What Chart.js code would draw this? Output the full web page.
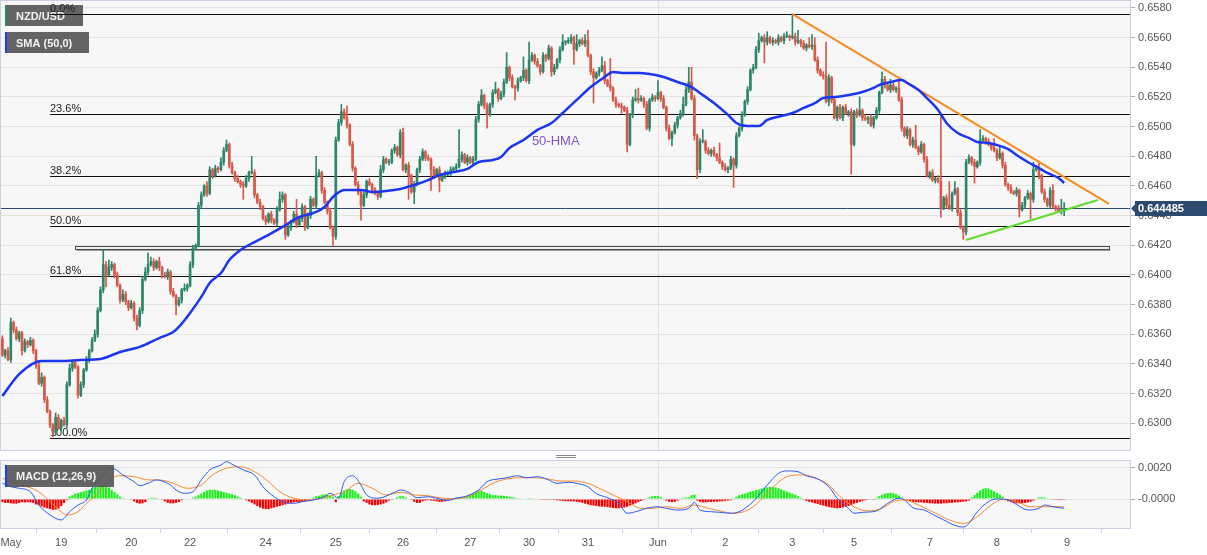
<!DOCTYPE html>
<html>
<head>
<meta charset="utf-8">
<title>NZD/USD 1H</title>
<script src="https://cdn.jsdelivr.net/npm/chart.js@4.4.1/dist/chart.umd.min.js"></script>
<style>
  html, body { margin: 0; padding: 0; background: #fff; }
  #wrap { position: relative; width: 1207px; height: 555px; overflow: hidden; }
  #main { position: absolute; left: 0; top: 0; }
  #macd { position: absolute; left: 0; top: 452px; }
</style>
</head>
<body>
<div id="wrap">
  <canvas id="main" width="1207" height="452"></canvas>
  <canvas id="macd" width="1207" height="103"></canvas>
</div>
<script>
// NZD/USD hourly candles, SMA(50) and MACD(12,26,9)
// prices in pips (x 1e-4)

const nSlots = 403; // 380 candles + empty room on the right
const firstOpen = 6357;

const closes = [
  6346, 6349, 6343, 6368, 6363, 6357, 6361, 6349, 6355, 6353,
  6356, 6349, 6339, 6327, 6331, 6316, 6308, 6299, 6294, 6304,
  6297, 6302, 6299, 6326, 6337, 6341, 6338, 6319, 6326, 6336,
  6343, 6349, 6356, 6360, 6376, 6390, 6407, 6400, 6405, 6407,
  6400, 6393, 6383, 6387, 6382, 6378, 6381, 6371, 6366, 6376,
  6397, 6402, 6407, 6409, 6405, 6409, 6405, 6400, 6399, 6402,
  6389, 6386, 6380, 6383, 6390, 6391, 6393, 6407, 6418, 6420,
  6447, 6454, 6460, 6455, 6471, 6467, 6472, 6471, 6476, 6484,
  6488, 6474, 6469, 6465, 6463, 6461, 6460, 6465, 6469, 6469,
  6454, 6449, 6446, 6438, 6436, 6441, 6437, 6435, 6444, 6451,
  6454, 6427, 6432, 6436, 6441, 6434, 6438, 6446, 6432, 6440,
  6451, 6447, 6467, 6469, 6457, 6449, 6443, 6432, 6426, 6491,
  6503, 6510, 6506, 6501, 6488, 6472, 6461, 6456, 6447, 6454,
  6463, 6461, 6457, 6455, 6453, 6471, 6478, 6476, 6476, 6484,
  6486, 6481, 6496, 6471, 6474, 6467, 6456, 6461, 6471, 6478,
  6483, 6479, 6478, 6471, 6467, 6471, 6464, 6467, 6468, 6469,
  6471, 6472, 6473, 6478, 6481, 6476, 6479, 6476, 6478, 6505,
  6515, 6521, 6514, 6508, 6515, 6523, 6525, 6519, 6522, 6530,
  6540, 6533, 6527, 6526, 6531, 6533, 6538, 6531, 6545, 6548,
  6544, 6541, 6537, 6548, 6546, 6553, 6537, 6540, 6545, 6552,
  6557, 6557, 6558, 6560, 6552, 6556, 6558, 6556, 6558, 6548,
  6537, 6533, 6536, 6538, 6541, 6531, 6528, 6526, 6518, 6515,
  6514, 6513, 6511, 6488, 6508, 6518, 6519, 6518, 6519, 6515,
  6499, 6518, 6520, 6519, 6523, 6519, 6513, 6499, 6492, 6496,
  6501, 6506, 6509, 6515, 6525, 6530, 6519, 6494, 6471, 6490,
  6490, 6484, 6482, 6484, 6481, 6479, 6476, 6473, 6471, 6472,
  6478, 6474, 6494, 6499, 6508, 6517, 6525, 6538, 6540, 6552,
  6558, 6560, 6557, 6560, 6557, 6558, 6557, 6560, 6558, 6561,
  6561, 6560, 6561, 6557, 6558, 6556, 6553, 6555, 6554, 6555,
  6545, 6538, 6535, 6534, 6517, 6533, 6518, 6506, 6513, 6506,
  6513, 6509, 6510, 6488, 6510, 6508, 6511, 6506, 6505, 6506,
  6501, 6506, 6511, 6523, 6532, 6528, 6525, 6528, 6525, 6526,
  6518, 6499, 6494, 6498, 6488, 6491, 6486, 6483, 6488, 6478,
  6467, 6469, 6464, 6465, 6463, 6445, 6452, 6447, 6445, 6455,
  6458, 6442, 6432, 6429, 6476, 6479, 6476, 6473, 6476, 6491,
  6492, 6490, 6488, 6486, 6484, 6479, 6482, 6474, 6461, 6459,
  6456, 6455, 6457, 6444, 6447, 6452, 6455, 6451, 6471, 6472,
  6467, 6456, 6451, 6447, 6457, 6446, 6445, 6443, 6443, 6444.85
];

// wick length above / below the body, pips
const upWick = [
  2, 1, 2, 3, 1, 2, 1, 1, 2, 1,
  2, 1, 1, 2, 3, 1, 2, 1, 1, 3,
  2, 1, 2, 2, 3, 1, 2, 1, 2, 1,
  2, 1, 2, 3, 2, 2, 10, 2, 5, 2,
  1, 2, 1, 3, 2, 1, 2, 1, 2, 2,
  2, 3, 8, 3, 2, 1, 3, 1, 2, 2,
  1, 2, 1, 2, 1, 3, 1, 2, 2, 1,
  2, 2, 1, 3, 2, 1, 2, 1, 3, 2,
  3, 1, 2, 1, 2, 1, 2, 2, 1, 11,
  2, 1, 2, 1, 2, 1, 2, 1, 2, 5,
  2, 1, 2, 1, 2, 10, 1, 2, 1, 2,
  2, 1, 13, 2, 1, 2, 1, 2, 1, 2,
  2, 5, 2, 8, 1, 2, 1, 2, 1, 2,
  1, 2, 1, 2, 1, 3, 2, 1, 2, 1,
  2, 1, 2, 3, 1, 2, 1, 2, 1, 2,
  2, 1, 2, 1, 2, 1, 2, 1, 2, 1,
  2, 1, 2, 20, 2, 1, 2, 1, 2, 2,
  2, 4, 1, 2, 1, 2, 5, 1, 2, 2,
  10, 1, 2, 1, 2, 1, 9, 1, 12, 2,
  1, 2, 1, 2, 1, 2, 1, 2, 1, 2,
  5, 1, 2, 2, 1, 6, 1, 2, 4, 7,
  1, 2, 1, 2, 6, 3, 1, 18, 1, 2,
  1, 2, 1, 2, 1, 2, 6, 7, 2, 1,
  2, 1, 2, 1, 8, 1, 2, 1, 2, 1,
  2, 1, 2, 5, 2, 10, 10, 2, 1, 2,
  8, 1, 2, 1, 2, 1, 10, 1, 2, 1,
  2, 1, 2, 1, 2, 1, 2, 1, 2, 2,
  5, 1, 2, 4, 1, 2, 1, 2, 1, 2,
  3, 1, 15, 2, 7, 1, 2, 1, 5, 7,
  5, 2, 1, 2, 23, 2, 1, 2, 1, 2,
  1, 2, 1, 2, 1, 2, 9, 1, 2, 1,
  2, 1, 2, 1, 5, 2, 1, 4, 2, 1,
  6, 2, 1, 2, 1, 2, 10, 1, 2, 1,
  2, 1, 2, 1, 2, 45, 1, 2, 16, 1,
  5, 1, 2, 1, 2, 2, 1, 2, 1, 7,
  2, 1, 2, 1, 6, 1, 5, 1, 2, 1,
  2, 1, 2, 1, 2, 1, 2, 1, 5, 2,
  4, 1, 2, 1, 2, 4, 1, 2, 8, 4
];
const downWick = [
  1, 2, 1, 2, 2, 1, 2, 3, 1, 2,
  1, 2, 2, 1, 2, 2, 1, 2, 3, 2,
  1, 2, 1, 2, 1, 2, 1, 2, 1, 2,
  1, 2, 1, 1, 2, 1, 2, 8, 1, 2,
  2, 1, 2, 1, 2, 2, 1, 2, 3, 1,
  2, 1, 2, 1, 2, 1, 2, 2, 1, 2,
  2, 1, 7, 1, 2, 1, 2, 1, 2, 1,
  1, 2, 1, 2, 1, 2, 1, 2, 1, 2,
  1, 2, 1, 2, 1, 2, 9, 1, 2, 1,
  2, 1, 2, 1, 2, 1, 2, 1, 2, 1,
  2, 3, 1, 2, 1, 2, 1, 2, 2, 1,
  2, 1, 2, 1, 2, 1, 2, 1, 6, 2,
  1, 2, 1, 2, 1, 2, 1, 2, 10, 1,
  2, 1, 2, 1, 2, 1, 2, 1, 2, 1,
  2, 1, 2, 1, 2, 16, 1, 8, 1, 2,
  1, 2, 1, 14, 2, 1, 8, 1, 2, 1,
  2, 1, 2, 1, 2, 1, 2, 1, 2, 1,
  2, 1, 2, 9, 1, 2, 1, 2, 1, 2,
  1, 2, 1, 8, 2, 1, 2, 1, 2, 1,
  2, 1, 2, 1, 2, 1, 3, 2, 1, 2,
  1, 2, 1, 2, 10, 1, 2, 1, 2, 1,
  2, 17, 1, 2, 1, 2, 1, 2, 1, 2,
  1, 4, 1, 5, 1, 2, 1, 2, 1, 2,
  1, 2, 1, 2, 1, 2, 1, 2, 1, 5,
  1, 2, 1, 2, 1, 2, 1, 3, 6, 2,
  1, 2, 1, 2, 1, 2, 1, 2, 1, 2,
  1, 15, 2, 1, 2, 1, 2, 1, 2, 1,
  2, 1, 14, 2, 1, 2, 1, 2, 1, 2,
  1, 2, 1, 2, 1, 2, 1, 2, 1, 2,
  1, 2, 1, 2, 1, 3, 2, 1, 2, 1,
  2, 1, 2, 20, 1, 2, 1, 2, 1, 3,
  1, 2, 1, 2, 1, 2, 1, 2, 1, 2,
  1, 2, 1, 2, 1, 2, 1, 2, 1, 2,
  1, 2, 1, 2, 1, 6, 1, 2, 1, 2,
  1, 2, 1, 5, 2, 1, 2, 11, 1, 2,
  1, 2, 1, 2, 1, 2, 1, 2, 1, 2,
  1, 1, 2, 5, 1, 2, 1, 13, 2, 1,
  2, 1, 2, 1, 2, 1, 2, 1, 2, 3
];

// 50-hour SMA, read at these candle positions (pips)
const smaIdx = [0, 6, 14, 21, 28, 35, 42, 49, 56, 61, 63, 67, 71, 74, 78, 81, 85, 90, 95, 100,
  106, 111, 115, 118, 122, 128, 132, 137, 142, 147, 152, 156, 161, 166, 170, 175, 178, 181, 186, 191,
  196, 200, 205, 210, 215, 218, 222, 227, 231, 236, 241, 246, 249, 254, 259, 262, 266, 270, 273, 278,
  282, 286, 290, 293, 297, 300, 304, 307, 311, 313, 317, 321, 323, 327, 330, 334, 337, 341, 345, 348,
  352, 355, 359, 362, 366, 370, 373, 377, 379];
const smaVal = [6318.4, 6333.2, 6342.0, 6342.0, 6342.7, 6343.4, 6348.1, 6351.5, 6357.5, 6361.6,
  6365.0, 6374.4, 6385.2, 6394.6, 6401.3, 6410.1, 6416.9, 6422.2, 6427.0, 6432.4,
  6439.1, 6441.8, 6445.8, 6452.6, 6457.3, 6457.3, 6456.0, 6456.6, 6458.0, 6460.7,
  6464.0, 6467.4, 6469.4, 6471.5, 6476.2, 6477.5, 6479.6, 6485.6, 6491.0, 6497.8,
  6502.5, 6509.2, 6518.0, 6526.7, 6533.5, 6536.9, 6536.2, 6536.2, 6535.5, 6533.5,
  6530.1, 6526.7, 6522.7, 6515.9, 6507.9, 6502.5, 6500.4, 6500.4, 6504.5, 6507.2,
  6509.2, 6512.6, 6515.9, 6519.3, 6520.0, 6520.7, 6522.0, 6523.4, 6526.1, 6528.1,
  6530.1, 6531.5, 6529.4, 6524.7, 6519.3, 6511.2, 6502.5, 6495.7, 6492.4, 6489.7,
  6489.0, 6487.6, 6484.9, 6480.9, 6476.2, 6472.1, 6468.8, 6465.4, 6462.0];

// MACD line and signal (x 1e-4), histogram (x 1e-5)
const macdIdx = [0, 3, 6, 10, 13, 17, 21, 22, 24, 27, 30, 32, 36, 38, 40, 43, 47, 49, 52, 55,
  57, 60, 62, 65, 68, 71, 74, 78, 80, 82, 86, 90, 93, 97, 100, 104, 107, 111, 115, 117,
  120, 122, 125, 128, 130, 134, 140, 142, 145, 148, 152, 155, 159, 162, 166, 170, 173, 177, 180, 184,
  187, 191, 195, 198, 202, 205, 209, 212, 216, 220, 223, 227, 230, 234, 237, 241, 245, 247, 249, 253,
  256, 260, 263, 268, 273, 277, 280, 284, 287, 291, 295, 298, 302, 304, 307, 312, 316, 320, 322, 325,
  329, 332, 336, 340, 343, 345, 348, 352, 355, 359, 362, 366, 370, 372, 375, 379];
const macdVal = [10.1, 7.9, 6.9, 4.7, -3.9, -10.3, -13.5, -12.5, -8.2, -3.9,
  -0.6, 6.9, 15.5, 19.8, 19.4, 15.5, 11.2, 8.6, 10.1, 12.3,
  11.6, 9.0, 5.8, 3.7, 4.7, 12.3, 18.7, 21.9, 24.1, 22.4,
  18.7, 15.5, 7.9, 1.5, -1.7, -2.8, -1.7, -0.6, 1.5, 3.7,
  0.5, 11.2, 15.0, 9.0, 2.6, 0.5, 4.3, 5.8, 4.3, 0.8,
  1.5, 0.5, -0.9, 0.5, 2.1, 5.8, 11.2, 12.9, 13.7, 15.0,
  13.7, 14.4, 12.3, 10.1, 10.8, 10.1, 7.9, 3.5, 0.8, -2.8,
  -9.2, -7.7, -6.0, -5.0, -6.0, -7.1, -6.0, -2.2, -7.1, -8.2,
  -8.6, -9.2, -8.2, -1.7, 9.0, 16.5, 18.1, 17.6, 15.0, 12.9,
  7.9, 0.5, -6.0, -9.2, -8.6, -7.7, -2.8, 0.5, -0.6, -5.6,
  -7.1, -9.9, -13.5, -17.0, -18.1, -15.8, -8.2, -1.7, 0.0, -0.6,
  -3.5, -7.1, -6.0, -3.9, -5.0, -6.0];
const signalIdx = [0, 6, 13, 17, 21, 23, 27, 30, 34, 37, 42, 47, 52, 56, 61, 66, 71, 75, 80, 85,
  90, 95, 99, 104, 109, 114, 118, 122, 127, 132, 137, 142, 147, 152, 156, 161, 166, 171, 175, 180,
  185, 190, 195, 199, 204, 209, 213, 218, 223, 228, 232, 237, 242, 247, 252, 256, 261, 264, 268, 273,
  278, 281, 286, 290, 295, 299, 304, 309, 314, 318, 322, 327, 332, 338, 343, 348, 353, 357, 362, 367,
  373, 379];
const signalVal = [13.3, 9.5, 4.7, -1.7, -8.2, -10.3, -8.2, -2.8, 3.7, 11.2,
  15.0, 14.4, 12.3, 12.3, 10.1, 6.9, 9.0, 15.5, 19.8, 20.8,
  17.6, 11.2, 4.7, 0.5, -0.6, 0.5, 2.6, 4.7, 10.1, 6.9,
  2.6, 4.3, 2.6, 2.1, 0.8, 0.2, 1.5, 5.8, 10.1, 12.9,
  13.7, 13.7, 12.9, 11.6, 11.6, 10.1, 6.9, 2.6, -1.7, -6.0,
  -6.0, -5.0, -6.0, -3.9, -6.0, -7.7, -9.2, -8.5, -5.0, 3.7,
  12.3, 15.0, 15.5, 13.7, 9.0, 1.5, -5.0, -7.7, -6.0, -1.7,
  -0.6, -3.9, -8.2, -13.5, -15.8, -11.4, -3.9, -0.2, -1.7, -5.0,
  -5.0, -5.0];
const histVals = [
  -20, -25, -25, -28, -30, -30, -25, -20, -22, -20,
  -22, -25, -35, -40, -48, -55, -60, -65, -70, -68,
  -60, -45, -25, -8, 15, 25, 35, 40, 45, 50,
  55, 60, 70, 80, 85, 90, 90, 85, 75, 60,
  45, 30, 15, 5, 2, -3, -5, -15, -25, -30,
  -28, -20, 5, 8, 8, 6, 3, -5, -15, -25,
  -28, -28, -25, -18, -8, -3, 0, 3, 8, 15,
  25, 35, 45, 55, 60, 60, 58, 55, 50, 45,
  40, 35, 30, 25, 15, 8, -3, -8, -15, -25,
  -35, -45, -55, -62, -65, -65, -60, -55, -50, -45,
  -40, -35, -30, -25, -22, -20, -20, -18, -15, -12,
  -5, 10, 18, 22, 28, 30, 28, 22, 15, -20,
  20, 40, 55, 62, 65, 60, 50, 35, 15, -15,
  -25, -35, -40, -40, -38, -35, -30, -22, -10, -5,
  2, 12, 18, 18, 10, 0, -5, -18, -25, -25,
  -15, -10, -8, -10, -12, -15, -18, -18, -15, -10,
  -5, 5, 10, 12, 12, 15, 20, 30, 40, 50,
  55, 52, 45, 38, 30, 25, 25, 22, 22, 20,
  18, 15, 12, 8, 5, 2, 0, 2, 5, 5,
  3, -3, -5, -5, -6, -5, -5, -6, -8, -10,
  -12, -14, -15, -15, -15, -18, -20, -25, -30, -35,
  -40, -42, -45, -48, -50, -50, -52, -55, -58, -60,
  -60, -58, -55, -50, -42, -35, -28, -20, -12, -5,
  5, 12, 18, 20, 18, 12, 5, -10, -18, -20,
  -18, -10, 5, 8, 10, 12, 25, 28, -10, -18,
  -22, -22, -20, -20, -18, -18, -15, -15, -12, -10,
  -8, 5, 15, 25, 30, 35, 42, 48, 52, 58,
  62, 68, 72, 75, 78, 78, 75, 70, 62, 55,
  48, 42, 35, 28, 18, 8, -5, -12, -18, -22,
  -28, -32, -38, -42, -48, -52, -55, -58, -60, -58,
  -55, -50, -45, -38, -30, -25, -18, -12, -8, -5,
  -3, -1, 8, 18, 28, 35, 38, 40, 38, 32,
  22, 10, -5, -10, -15, -18, -20, -22, -22, -25,
  -25, -28, -28, -30, -30, -30, -28, -28, -25, -25,
  -22, -22, -20, -18, -15, -10, 10, 25, 40, 55,
  65, 70, 68, 60, 50, 40, 30, 15, -8, -15,
  -20, -25, -28, -28, -28, -25, -22, -18, -10, 5,
  10, 12, 10, 5, -3, -5, -5, -6, -6, -5
];

// axes
const priceTicks = [0.6300, 0.6320, 0.6340, 0.6360, 0.6380, 0.6400, 0.6420, 0.6440,
  0.6460, 0.6480, 0.6500, 0.6520, 0.6540, 0.6560, 0.6580];
const priceRange = [0.628133, 0.658539];
const macdTicks = [0, 0.002];
const macdRange = [-0.001935, 0.002516];
const dayTickIdx = [3, 21, 46, 67, 94, 119, 143, 167, 188, 209, 234, 258, 282, 304, 331, 355, 380];
const dayTickText = ['May', '19', '20', '22', '24', '25', '26', '27', '30', '31', 'Jun', '2', '3', '5', '7', '8', '9'];

// drawings on the price panel
const fibPct = [0, 23.6, 38.2, 50, 61.8, 100];
const fibHigh = 0.65758, fibLow = 0.62899, fibFromIdx = 17;
const supportZone = [0.64172, 0.64196], zoneIdx = [26, 395];
const trendDownIdx = [282, 395], trendDownVal = [0.65758, 0.64479];
const trendUpIdx = [344, 391], trendUpVal = [0.64236, 0.64506];
const lastPrice = 0.644485;
const hmaLabelAt = [189, 0.6490];

const FONT = "'Liberation Sans', Arial, sans-serif";
const UP = '#2e8668', DOWN = '#d65848';
const PLOT_BG = '#f7f7f7', FRAME = '#c8d0e2';

Chart.defaults.font.family = FONT;
Chart.defaults.color = '#555';

// ---- build library data
const labels = Array.from({ length: nSlots }, (_, i) => String(i));
const opens = closes.map((c, i) => (i === 0 ? firstOpen : closes[i - 1]));
const candleCol = closes.map((c, i) => (c >= opens[i] ? UP : DOWN));
const bodies = closes.map((c, i) => [opens[i] / 1e4, c / 1e4]);
const wicks = closes.map((c, i) => [
  (Math.min(opens[i], c) - downWick[i]) / 1e4,
  (Math.max(opens[i], c) + upWick[i]) / 1e4,
]);

function sparse(idx, vals, k) {
  const a = new Array(nSlots).fill(null);
  idx.forEach((x, j) => { a[x] = vals[j] * k; });
  return a;
}

// no label overhang padding: chart area must sit exactly on the frame
function noPad(s) {
  s.paddingTop = 0; s.paddingBottom = 0; s.paddingLeft = 0; s.paddingRight = 0;
}

function tag(ctx, x, y, w, h, text, accent) {
  ctx.fillStyle = 'rgba(88,88,88,0.93)';
  ctx.fillRect(x, y, w, h);
  ctx.fillStyle = accent;
  ctx.fillRect(x, y, 2, h);
  ctx.fillStyle = '#f2f2f2';
  ctx.font = 'bold 11px ' + FONT;
  ctx.textBaseline = 'middle';
  ctx.textAlign = 'left';
  ctx.fillText(text, x + 11, y + h / 2 + 1);
}

function frame(ctx, a) {
  ctx.strokeStyle = FRAME;
  ctx.lineWidth = 1;
  ctx.strokeRect(Math.round(a.left) - 0.5, Math.round(a.top) + 0.5,
    Math.round(a.right - a.left) + 1, Math.round(a.bottom - a.top) - 1);
}

const junIdx = dayTickIdx[dayTickText.indexOf('Jun')];

const mainDeco = {
  id: 'mainDeco',
  beforeDraw(chart) {
    const { ctx, chartArea: a } = chart;
    ctx.save();
    ctx.fillStyle = PLOT_BG;
    ctx.fillRect(a.left, a.top, a.right - a.left, a.bottom - a.top);
    ctx.restore();
  },
  beforeDatasetsDraw(chart) {
    const { ctx, chartArea: a, scales: { x, y } } = chart;
    ctx.save();
    ctx.lineWidth = 1;

    // month separator
    const jx = Math.round(x.getPixelForValue(junIdx)) + 0.5;
    ctx.strokeStyle = '#e0e0e0';
    ctx.beginPath(); ctx.moveTo(jx, a.top); ctx.lineTo(jx, a.bottom); ctx.stroke();

    // last price line
    const ly = Math.round(y.getPixelForValue(lastPrice)) + 0.5;
    ctx.strokeStyle = '#2b4a6f';
    ctx.beginPath(); ctx.moveTo(a.left, ly); ctx.lineTo(a.right, ly); ctx.stroke();

    // support zone
    const zx0 = Math.round(x.getPixelForValue(zoneIdx[0])) + 0.5;
    const zx1 = Math.round(x.getPixelForValue(zoneIdx[1])) + 0.5;
    const zy0 = Math.round(y.getPixelForValue(supportZone[1])) + 0.5;
    const zy1 = Math.round(y.getPixelForValue(supportZone[0])) + 0.5;
    ctx.fillStyle = '#eeeeee';
    ctx.fillRect(zx0, zy0, zx1 - zx0, zy1 - zy0);
    ctx.strokeStyle = '#4a4a4a';
    ctx.strokeRect(zx0, zy0, zx1 - zx0, zy1 - zy0);
    ctx.strokeStyle = '#9a9a9a';
    ctx.beginPath(); ctx.moveTo(zx0 + 1, zy1 + 1); ctx.lineTo(zx1 + 1, zy1 + 1); ctx.stroke();

    // legend tags
    tag(ctx, 5, 5, 78, 21, 'NZD/USD', UP);
    tag(ctx, 5, 32, 84, 21, 'SMA (50,0)', '#1a3cff');

    // fibonacci retracement
    const fx = Math.round(x.getPixelForValue(fibFromIdx));
    ctx.font = '11px ' + FONT;
    ctx.textAlign = 'left';
    ctx.textBaseline = 'alphabetic';
    fibPct.forEach(p => {
      const price = fibHigh - (p / 100) * (fibHigh - fibLow);
      const py = Math.round(y.getPixelForValue(price)) + 0.5;
      ctx.strokeStyle = '#111';
      ctx.beginPath(); ctx.moveTo(fx, py); ctx.lineTo(a.right, py); ctx.stroke();
      ctx.fillStyle = '#222';
      ctx.fillText(p.toFixed(1) + '%', fx, py - 2.5);
    });

    // 50-HMA note
    ctx.fillStyle = '#7d55c8';
    ctx.font = '13px ' + FONT;
    ctx.textBaseline = 'middle';
    ctx.fillText('50-HMA', x.getPixelForValue(hmaLabelAt[0]), y.getPixelForValue(hmaLabelAt[1]));
    ctx.restore();
  },
  afterDraw(chart) {
    const { ctx, chartArea: a, scales: { y } } = chart;
    ctx.save();
    frame(ctx, a);
    // last price tag on the axis
    const ty = Math.round(y.getPixelForValue(lastPrice)) + 0.5;
    const tx = Math.round(a.right) + 1;
    ctx.fillStyle = '#2c4a6d';
    ctx.beginPath();
    ctx.moveTo(tx, ty);
    ctx.lineTo(tx + 4, ty - 4);
    ctx.lineTo(tx + 4, ty - 7.5);
    ctx.lineTo(chart.width, ty - 7.5);
    ctx.lineTo(chart.width, ty + 7.5);
    ctx.lineTo(tx + 4, ty + 7.5);
    ctx.lineTo(tx + 4, ty + 4);
    ctx.closePath();
    ctx.fill();
    ctx.fillStyle = '#fff';
    ctx.font = 'bold 11px ' + FONT;
    ctx.textBaseline = 'middle';
    ctx.textAlign = 'left';
    ctx.fillText(lastPrice.toFixed(6), tx + 7, ty + 0.5);
    ctx.restore();
  }
};

new Chart(document.getElementById('main'), {
  type: 'bar',
  data: {
    labels,
    datasets: [
      { type: 'line', data: sparse(smaIdx, smaVal, 1e-4), borderColor: '#1b35f2', borderWidth: 2.5,
        pointRadius: 0, spanGaps: true, cubicInterpolationMode: 'monotone', order: 0 },
      { type: 'line', data: sparse(trendDownIdx, trendDownVal, 1), borderColor: '#f68b1f', borderWidth: 2,
        pointRadius: 0, spanGaps: true, order: 0 },
      { type: 'line', data: sparse(trendUpIdx, trendUpVal, 1), borderColor: '#5fdc2c', borderWidth: 2,
        pointRadius: 0, spanGaps: true, order: 0 },
      { data: wicks, backgroundColor: candleCol, barThickness: 1, grouped: false, order: 3 },
      { data: bodies, backgroundColor: candleCol, barThickness: 2, minBarLength: 1, grouped: false, order: 2 },
    ]
  },
  options: {
    responsive: false,
    animation: false,
    events: [],
    layout: { padding: { left: 1, top: 0, right: 0, bottom: 1 } },
    plugins: { legend: { display: false }, tooltip: { enabled: false } },
    scales: {
      x: { display: false, offset: true },
      y: {
        position: 'right',
        min: priceRange[0],
        max: priceRange[1],
        afterFit: s => { s.width = 77; noPad(s); },
        afterBuildTicks: s => { s.ticks = priceTicks.map(v => ({ value: v })); },
        ticks: { callback: v => v.toFixed(4), color: '#555', font: { size: 11 }, padding: 3 },
        grid: { color: '#e4e4e4', tickColor: '#a8aec0', tickLength: 5 },
        border: { display: false }
      }
    }
  },
  plugins: [mainDeco]
});

const macdDeco = {
  id: 'macdDeco',
  beforeDraw(chart) {
    const { ctx, chartArea: a } = chart;
    ctx.save();
    ctx.fillStyle = PLOT_BG;
    ctx.fillRect(a.left, a.top, a.right - a.left, a.bottom - a.top);
    ctx.restore();
  },
  beforeDatasetsDraw(chart) {
    const { ctx, chartArea: a, scales: { x } } = chart;
    ctx.save();
    const jx = Math.round(x.getPixelForValue(junIdx)) + 0.5;
    ctx.strokeStyle = '#e0e0e0';
    ctx.lineWidth = 1;
    ctx.beginPath(); ctx.moveTo(jx, a.top); ctx.lineTo(jx, a.bottom); ctx.stroke();
    ctx.restore();
  },
  afterDraw(chart) {
    const { ctx, chartArea: a } = chart;
    ctx.save();
    frame(ctx, a);
    tag(ctx, 5, 13, 109, 22, 'MACD (12,26,9)', '#1a3cff');
    // panel resize handle
    const cx = Math.round((a.left + a.right) / 2);
    ctx.strokeStyle = '#8a8a8a';
    ctx.lineWidth = 1;
    [3.5, 5.5].forEach(hy => {
      ctx.beginPath(); ctx.moveTo(cx - 10, hy); ctx.lineTo(cx + 10, hy); ctx.stroke();
    });
    ctx.restore();
  }
};

new Chart(document.getElementById('macd'), {
  type: 'bar',
  data: {
    labels,
    datasets: [
      { type: 'line', data: sparse(macdIdx, macdVal, 1e-4), borderColor: '#2d5bf2', borderWidth: 1,
        pointRadius: 0, spanGaps: true, cubicInterpolationMode: 'monotone', order: 0 },
      { type: 'line', data: sparse(signalIdx, signalVal, 1e-4), borderColor: '#f7892f', borderWidth: 1,
        pointRadius: 0, spanGaps: true, cubicInterpolationMode: 'monotone', order: 1 },
      { data: histVals.map(v => v / 1e5), backgroundColor: histVals.map(v => (v >= 0 ? '#1ef01e' : '#f80000')),
        barPercentage: 0.8, categoryPercentage: 1, order: 2 },
    ]
  },
  options: {
    responsive: false,
    animation: false,
    events: [],
    layout: { padding: { left: 1, top: 8, right: 0, bottom: 0 } },
    plugins: { legend: { display: false }, tooltip: { enabled: false } },
    scales: {
      x: {
        offset: true,
        afterFit: s => { s.height = 26; noPad(s); },
        afterBuildTicks: s => { s.ticks = dayTickIdx.map(v => ({ value: v })); },
        ticks: {
          autoSkip: false, maxRotation: 0, color: '#555', font: { size: 11 }, padding: 3,
          callback: v => dayTickText[dayTickIdx.indexOf(v)]
        },
        grid: { drawOnChartArea: false, tickLength: 4, color: FRAME },
        border: { display: false }
      },
      y: {
        position: 'right',
        min: macdRange[0],
        max: macdRange[1],
        afterFit: s => { s.width = 77; noPad(s); },
        afterBuildTicks: s => { s.ticks = macdTicks.map(v => ({ value: v })); },
        ticks: { callback: v => (v === 0 ? '-0.0000' : v.toFixed(4)), color: '#555', font: { size: 11 }, padding: 3 },
        grid: { color: '#e4e4e4', tickColor: '#a8aec0', tickLength: 5 },
        border: { display: false }
      }
    }
  },
  plugins: [macdDeco]
});
</script>
</body>
</html>
